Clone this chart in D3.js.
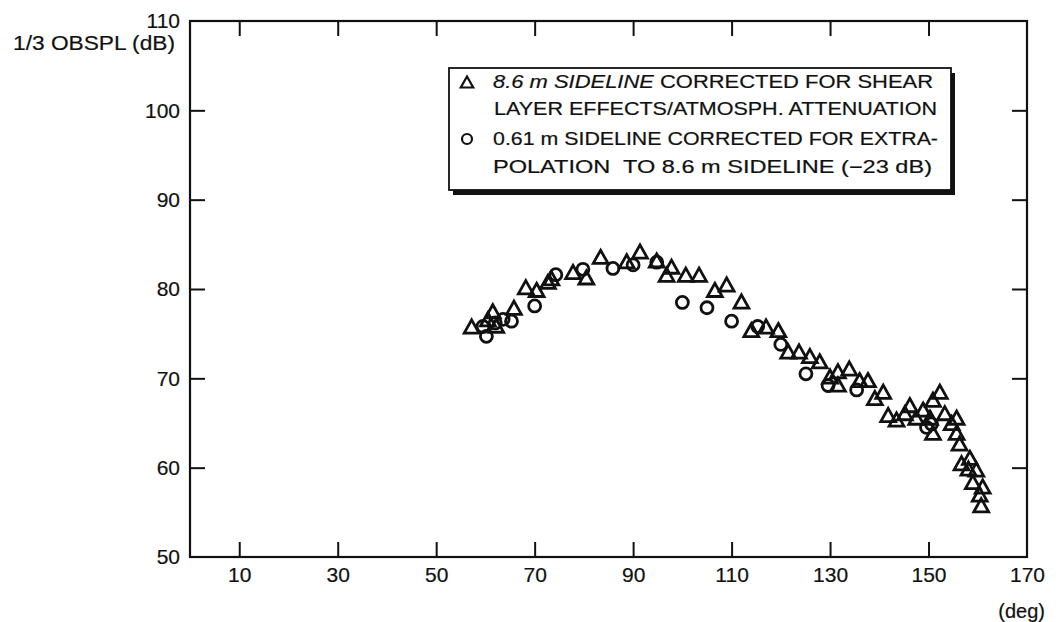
<!DOCTYPE html>
<html><head><meta charset="utf-8">
<script src="https://cdn.jsdelivr.net/npm/d3@7"></script>
<style>
html,body{margin:0;padding:0;background:#fff;}
svg text{font-family:"Liberation Sans",Arial,sans-serif;fill:#111;stroke:#111;stroke-width:0.2px;}
</style></head>
<body><svg id="chart" width="1060" height="622"></svg>
<script>
// ---- data ----
const xTicks = [10, 30, 50, 70, 90, 110, 130, 150, 170];
const yTicks = [50, 60, 70, 80, 90, 100, 110];
const triAngle = [57.2,60.5,61.5,62.2,65.8,68.2,70.4,72.7,73.4,77.8,80.5,83.4,88.7,91.4,94.8,96.8,97.8,100.7,103.4,106.6,109.0,112.0,114.0,117.0,119.5,121.5,123.7,125.9,127.9,130.0,131.6,131.6,133.9,136.0,137.7,139.1,140.8,141.8,143.5,145.2,146.2,147.5,148.9,150.3,150.9,150.9,152.3,153.3,154.7,155.7,155.7,156.3,156.7,158.1,158.4,159.0,159.7,160.4,161.0,160.7];
const triSPL   = [75.8,76.6,77.5,75.9,77.9,80.2,79.9,80.8,81.2,81.9,81.3,83.6,83.1,84.2,83.2,81.6,82.5,81.6,81.6,79.9,80.5,78.6,75.4,75.8,75.4,73.0,73.0,72.5,71.9,70.2,70.8,69.3,71.1,69.8,69.8,67.8,68.5,65.9,65.4,66.1,67.0,65.6,66.5,65.6,63.9,67.6,68.5,66.1,65.0,65.6,63.9,62.7,60.5,59.9,61.1,58.4,59.8,57.0,57.9,55.8];
const circAngle = [59.5,60.2,62.0,63.6,65.3,70.0,74.3,79.8,85.9,90.0,94.8,100.0,105.0,110.0,115.3,120.0,125.1,129.6,135.4,149.6,150.6];
const circSPL   = [75.8,74.7,76.2,76.6,76.4,78.1,81.6,82.2,82.3,82.7,83.0,78.5,77.9,76.4,75.8,73.8,70.5,69.2,68.7,64.5,64.9];
const yLabel = "1/3 OBSPL (dB)";
const xUnit = "(deg)";

const svg = d3.select("#chart");
const L = 190, R = 1027, T = 21, B = 557;
const x = d3.scaleLinear().domain([0, 170]).range([L, R]);
const y = d3.scaleLinear().domain([50, 110]).range([B, T]);
const tickLen = 15;

// frame
svg.append("rect").attr("x", L).attr("y", T).attr("width", R - L).attr("height", B - T)
  .attr("fill", "none").attr("stroke", "#111").attr("stroke-width", 2.2);

// axes with inward ticks
const axB = svg.append("g").attr("transform", `translate(0,${B})`)
  .call(d3.axisBottom(x).tickValues(xTicks).tickSize(-tickLen).tickPadding(10).tickFormat(d3.format("d")));
const axT = svg.append("g").attr("transform", `translate(0,${T})`)
  .call(d3.axisTop(x).tickValues(xTicks.filter(d => d < 170)).tickSize(-tickLen).tickFormat(""));
const axL = svg.append("g").attr("transform", `translate(${L},0)`)
  .call(d3.axisLeft(y).tickValues(yTicks).tickSize(-tickLen).tickPadding(10).tickFormat(d3.format("d")));
const axR = svg.append("g").attr("transform", `translate(${R},0)`)
  .call(d3.axisRight(y).tickValues(yTicks.filter(d => d > 50 && d < 110)).tickSize(-tickLen).tickFormat(""));
[axB, axT, axL, axR].forEach(a => {
  a.attr("font-size", null).attr("font-family", null);
  a.select(".domain").remove();
  a.selectAll(".tick line").attr("stroke", "#111").attr("stroke-width", 2);
  a.selectAll(".tick text").style("font-size", "21px").attr("fill", "#111");
});
// hide end ticks that sit on the frame corners
axB.selectAll(".tick").filter(d => d === 170).select("line").remove();
axL.selectAll(".tick").filter(d => d === 50 || d === 110).select("line").remove();

svg.append("text").attr("x", 13).attr("y", 50).style("font-size", "20.5px")
  .attr("textLength", 162).attr("lengthAdjust", "spacingAndGlyphs").text(yLabel);
svg.append("text").attr("x", 1045).attr("y", 618).attr("text-anchor", "end").style("font-size", "20px").text(xUnit);

// marker shapes
const triType = { draw(ctx, size) { const w = 7.4, h = 6.6; ctx.moveTo(0, -h); ctx.lineTo(w, h); ctx.lineTo(-w, h); ctx.closePath(); } };
const triSym = d3.symbol().type(triType).size(1);
const circSym = d3.symbol().type(d3.symbolCircle).size(Math.PI * 6 * 6);

const triData = triAngle.map((a, i) => ({ a, v: triSPL[i] }));
const circData = circAngle.map((a, i) => ({ a, v: circSPL[i] }));

svg.append("g").selectAll("path").data(circData).join("path")
  .attr("d", circSym).attr("transform", d => `translate(${x(d.a)},${y(d.v)})`)
  .attr("fill", "none").attr("stroke", "#111").attr("stroke-width", 2.8);
svg.append("g").selectAll("path").data(triData).join("path")
  .attr("d", triSym).attr("transform", d => `translate(${x(d.a)},${y(d.v)})`)
  .attr("fill", "none").attr("stroke", "#111").attr("stroke-width", 2.8).attr("stroke-linejoin", "miter");

// legend
const lg = svg.append("g");
const bx = 449, by = 68, bw = 502, bh = 122;
lg.append("rect").attr("x", bx + 4).attr("y", by + 5).attr("width", bw).attr("height", bh).attr("fill", "#111");
lg.append("rect").attr("x", bx).attr("y", by).attr("width", bw).attr("height", bh)
  .attr("fill", "#fff").attr("stroke", "#111").attr("stroke-width", 1.8);
const fs = "18px";
const l1 = lg.append("text").attr("x", 493).attr("y", 88).style("font-size", fs)
  .attr("textLength", 440).attr("lengthAdjust", "spacingAndGlyphs");
l1.append("tspan").attr("font-style", "italic").text("8.6 m SIDELINE");
l1.append("tspan").text(" CORRECTED FOR SHEAR");
lg.append("text").attr("x", 494).attr("y", 115).style("font-size", fs)
  .attr("textLength", 443).attr("lengthAdjust", "spacingAndGlyphs").text("LAYER EFFECTS/ATMOSPH. ATTENUATION");
lg.append("text").attr("x", 493).attr("y", 145).style("font-size", fs)
  .attr("textLength", 445).attr("lengthAdjust", "spacingAndGlyphs").text("0.61 m SIDELINE CORRECTED FOR EXTRA-");
lg.append("text").attr("x", 493).attr("y", 173).style("font-size", fs)
  .attr("textLength", 439).attr("lengthAdjust", "spacingAndGlyphs").text("POLATION\u00a0 TO 8.6 m SIDELINE (\u221223 dB)");
const legTri = { draw(ctx) { ctx.moveTo(0, -5.5); ctx.lineTo(6.2, 5.5); ctx.lineTo(-6.2, 5.5); ctx.closePath(); } };
lg.append("path").attr("d", d3.symbol().type(legTri).size(1)()).attr("transform", "translate(467,82)")
  .attr("fill", "none").attr("stroke", "#111").attr("stroke-width", 2.2);
lg.append("circle").attr("cx", 467).attr("cy", 139).attr("r", 5).attr("fill", "none").attr("stroke", "#111").attr("stroke-width", 2.2);
</script></body></html>
